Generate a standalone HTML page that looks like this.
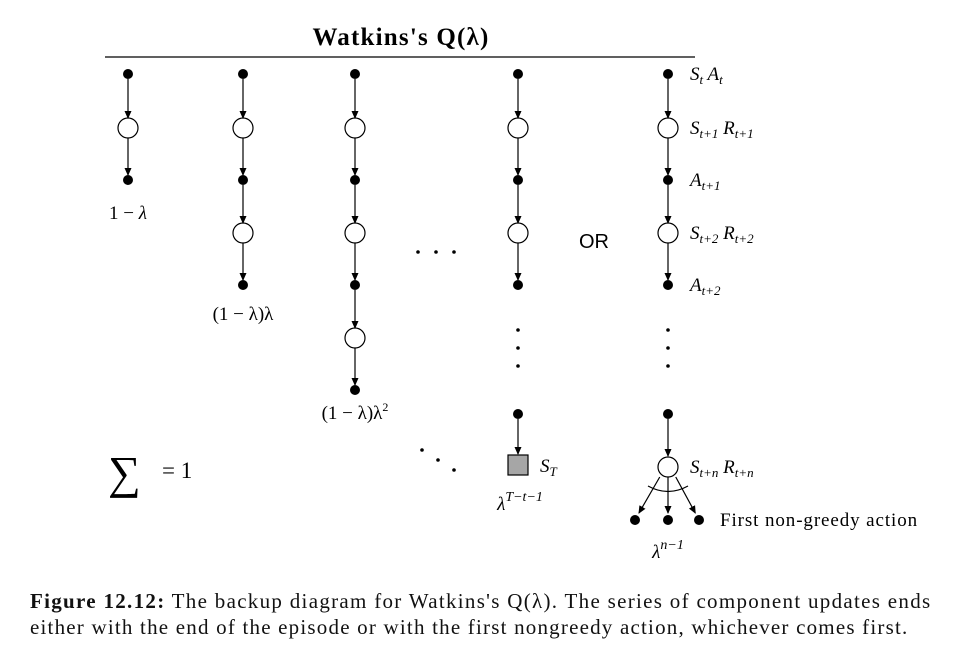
<!DOCTYPE html>
<html><head><meta charset="utf-8"><style>
html,body{margin:0;padding:0;background:#fff;}
body{width:956px;height:652px;overflow:hidden;position:relative;font-family:"Liberation Serif",serif;}
svg{position:absolute;left:0;top:0;}
.cap{position:absolute;left:30px;font-size:21px;color:#111;white-space:nowrap;}
</style></head><body>
<svg width="956" height="652" viewBox="0 0 956 652">
<defs><marker id="ah" markerWidth="8" markerHeight="8" refX="7" refY="4" orient="auto" markerUnits="userSpaceOnUse"><path d="M0,0.5 L8,4 L0,7.5 Z" fill="#000"/></marker></defs>
<text x="401" y="45" text-anchor="middle" font-size="25" font-weight="bold" letter-spacing="1.2" font-family="Liberation Serif">Watkins's Q(λ)</text>
<line x1="105" y1="57" x2="695" y2="57" stroke="#000" stroke-width="1.2"/>
<g id="cols"></g>
<g font-family="Liberation Serif" font-size="19" font-style="italic">
<text x="128" y="219" text-anchor="middle" font-style="normal">1 − <tspan font-style="italic">λ</tspan></text>
<text x="243" y="320" text-anchor="middle" font-style="normal">(1 − λ)λ</text>
<text x="355" y="419" text-anchor="middle" font-style="normal">(1 − λ)λ<tspan font-size="12" dy="-8">2</tspan></text>
<text x="520" y="510" text-anchor="middle">λ<tspan font-size="14" dy="-9">T−t−1</tspan></text>
<text x="668" y="558" text-anchor="middle">λ<tspan font-size="14" dy="-9">n−1</tspan></text>
<text x="540" y="472">S<tspan font-size="13" dy="4">T</tspan></text>
<text x="690" y="80">S<tspan font-size="13" dy="4">t</tspan><tspan dy="-4"> A</tspan><tspan font-size="13" dy="4">t</tspan></text>
<text x="690" y="134">S<tspan font-size="13" dy="4">t+1</tspan><tspan dy="-4"> R</tspan><tspan font-size="13" dy="4">t+1</tspan></text>
<text x="690" y="186">A<tspan font-size="13" dy="4">t+1</tspan></text>
<text x="690" y="239">S<tspan font-size="13" dy="4">t+2</tspan><tspan dy="-4"> R</tspan><tspan font-size="13" dy="4">t+2</tspan></text>
<text x="690" y="291">A<tspan font-size="13" dy="4">t+2</tspan></text>
<text x="690" y="473">S<tspan font-size="13" dy="4">t+n</tspan><tspan dy="-4"> R</tspan><tspan font-size="13" dy="4">t+n</tspan></text>
</g>
<text x="720" y="526" font-size="19" letter-spacing="0.9" font-family="Liberation Serif">First non-greedy action</text>
<text x="594" y="248" text-anchor="middle" font-size="20" font-family="Liberation Sans">OR</text>
<g fill="#000"><circle cx="418" cy="252" r="1.8"/><circle cx="436" cy="252" r="1.8"/><circle cx="454" cy="252" r="1.8"/></g>
<g fill="#000"><circle cx="422" cy="450" r="1.8"/><circle cx="438" cy="460" r="1.8"/><circle cx="454" cy="470" r="1.8"/></g>
<text x="108" y="488" font-size="46" font-family="Liberation Serif">∑</text>
<text x="162" y="478" font-size="23" font-family="Liberation Serif">= 1</text>
</svg>
<div class="cap" style="top:589px;letter-spacing:1.3px"><b>Figure 12.12:</b> The backup diagram for Watkins's Q(λ). The series of component updates ends</div>
<div class="cap" style="top:615px;letter-spacing:1.2px">either with the end of the episode or with the first nongreedy action, whichever comes first.</div>
<script>
const colX=[128,243,355,518,668];
const colLen=[3,5,7,5,5];
const rowY=[74,128,180,233,285,338,390];
const NS="http://www.w3.org/2000/svg";
const g=document.getElementById('cols');
function mk(t,a){const e=document.createElementNS(NS,t);for(const k in a)e.setAttribute(k,a[k]);g.appendChild(e);return e;}
function node(x,y,i){
  if(i%2===0){const c=mk('circle',{cx:x,cy:y,r:5,fill:'#000'});}
  else{const c=mk('circle',{cx:x,cy:y,r:10,fill:'#fff',stroke:'#000','stroke-width':1.2});}
}
function arrow(x1,y1,x2,y2){const l=mk('line',{x1:x1,y1:y1,x2:x2,y2:y2,stroke:'#000','stroke-width':1.2,'marker-end':'url(#ah)'});}
colX.forEach((x,ci)=>{
  const n=colLen[ci];
  for(let i=0;i<n;i++){
    node(x,rowY[i],i);
    if(i<n-1){
      const y1=rowY[i]+(i%2?10:5), y2=rowY[i+1]-((i+1)%2?10:5);
      arrow(x,y1,x,y2);
    }
  }
  if(ci>=3){
    [330,348,366].forEach(y=>{const d=mk('circle',{cx:x,cy:y,r:1.8,fill:'#000'});});
    node(x,414,0);
    if(ci===3){
      arrow(x,419,x,454);
      const s=mk('rect',{x:x-10,y:455,width:20,height:20,fill:'#a6a6a6',stroke:'#000','stroke-width':1.2});
      
    }else{
      arrow(x,419,x,456);
      node(x,467,1);
      [-33,0,31].forEach(dx=>{
        arrow(x+dx*0.25,477,x+dx*0.88,513);
        node(x+dx,520,0);
      });
      const a=mk('path',{d:`M${x-20},486 Q${x},497 ${x+20},486`,fill:'none',stroke:'#000','stroke-width':1.2});
      
    }
  }
});
</script>
</body></html>
